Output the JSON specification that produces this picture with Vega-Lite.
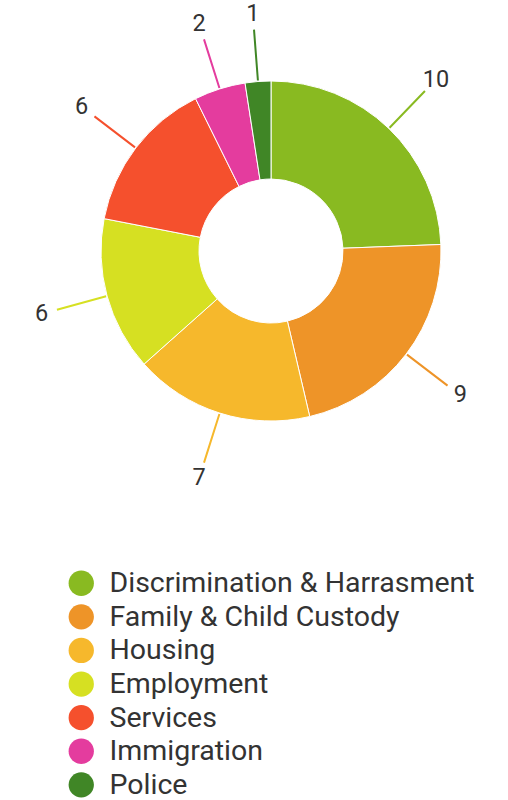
{
  "$schema": "https://vega.github.io/schema/vega-lite/v6.json",
  "width": 474,
  "height": 502,
  "padding": {"left": 34, "top": 0, "right": 0, "bottom": 0},
  "autosize": {"type": "pad"},
  "background": "white",
  "config": {"view": {"stroke": null}, "font": "Roboto"},
  "data": {
    "values": [
      {"category": "Discrimination & Harrasment", "count": 10, "rank": 1},
      {"category": "Family & Child Custody", "count": 9, "rank": 2},
      {"category": "Housing", "count": 7, "rank": 3},
      {"category": "Employment", "count": 6, "rank": 4},
      {"category": "Services", "count": 6, "rank": 5},
      {"category": "Immigration", "count": 2, "rank": 6},
      {"category": "Police", "count": 1, "rank": 7}
    ]
  },
  "encoding": {
    "theta": {"field": "count", "type": "quantitative", "stack": true},
    "order": {"field": "rank", "type": "quantitative", "sort": "ascending"}
  },
  "layer": [
    {
      "mark": {"type": "arc", "radius": 170, "innerRadius": 72, "stroke": "white", "strokeWidth": 1},
      "encoding": {
        "color": {
          "field": "category",
          "type": "nominal",
          "scale": {
            "domain": ["Discrimination & Harrasment", "Family & Child Custody", "Housing", "Employment", "Services", "Immigration", "Police"],
            "range": ["#89ba21", "#ee9428", "#f6b82c", "#d6e022", "#f5502d", "#e43c9e", "#408626"]
          },
          "legend": {
            "orient": "none",
            "legendX": 33,
            "legendY": 569,
            "title": null,
            "symbolType": "circle",
            "symbolSize": 640,
            "symbolStrokeWidth": 0,
            "symbolOpacity": 1,
            "labelFontSize": 28.5,
            "labelColor": "#333333",
            "labelFont": "Roboto",
            "rowPadding": 4.6,
            "labelOffset": 14,
            "padding": 0,
            "labelLimit": 500
          }
        }
      }
    },
    {
      "mark": {"type": "arc", "radius": 222, "innerRadius": 171, "padAngle": 3, "filled": false, "strokeWidth": 2},
      "encoding": {
        "stroke": {
          "field": "category",
          "type": "nominal",
          "scale": {
            "domain": ["Discrimination & Harrasment", "Family & Child Custody", "Housing", "Employment", "Services", "Immigration", "Police"],
            "range": ["#89ba21", "#ee9428", "#f6b82c", "#d6e022", "#f5502d", "#e43c9e", "#408626"]
          },
          "legend": null
        }
      }
    },
    {
      "mark": {"type": "text", "radius": 238, "fontSize": 23.5, "fill": "#333333", "font": "Roboto"},
      "encoding": {
        "detail": {"field": "category", "type": "nominal"},
        "text": {"field": "count", "type": "quantitative"}
      }
    }
  ]
}
